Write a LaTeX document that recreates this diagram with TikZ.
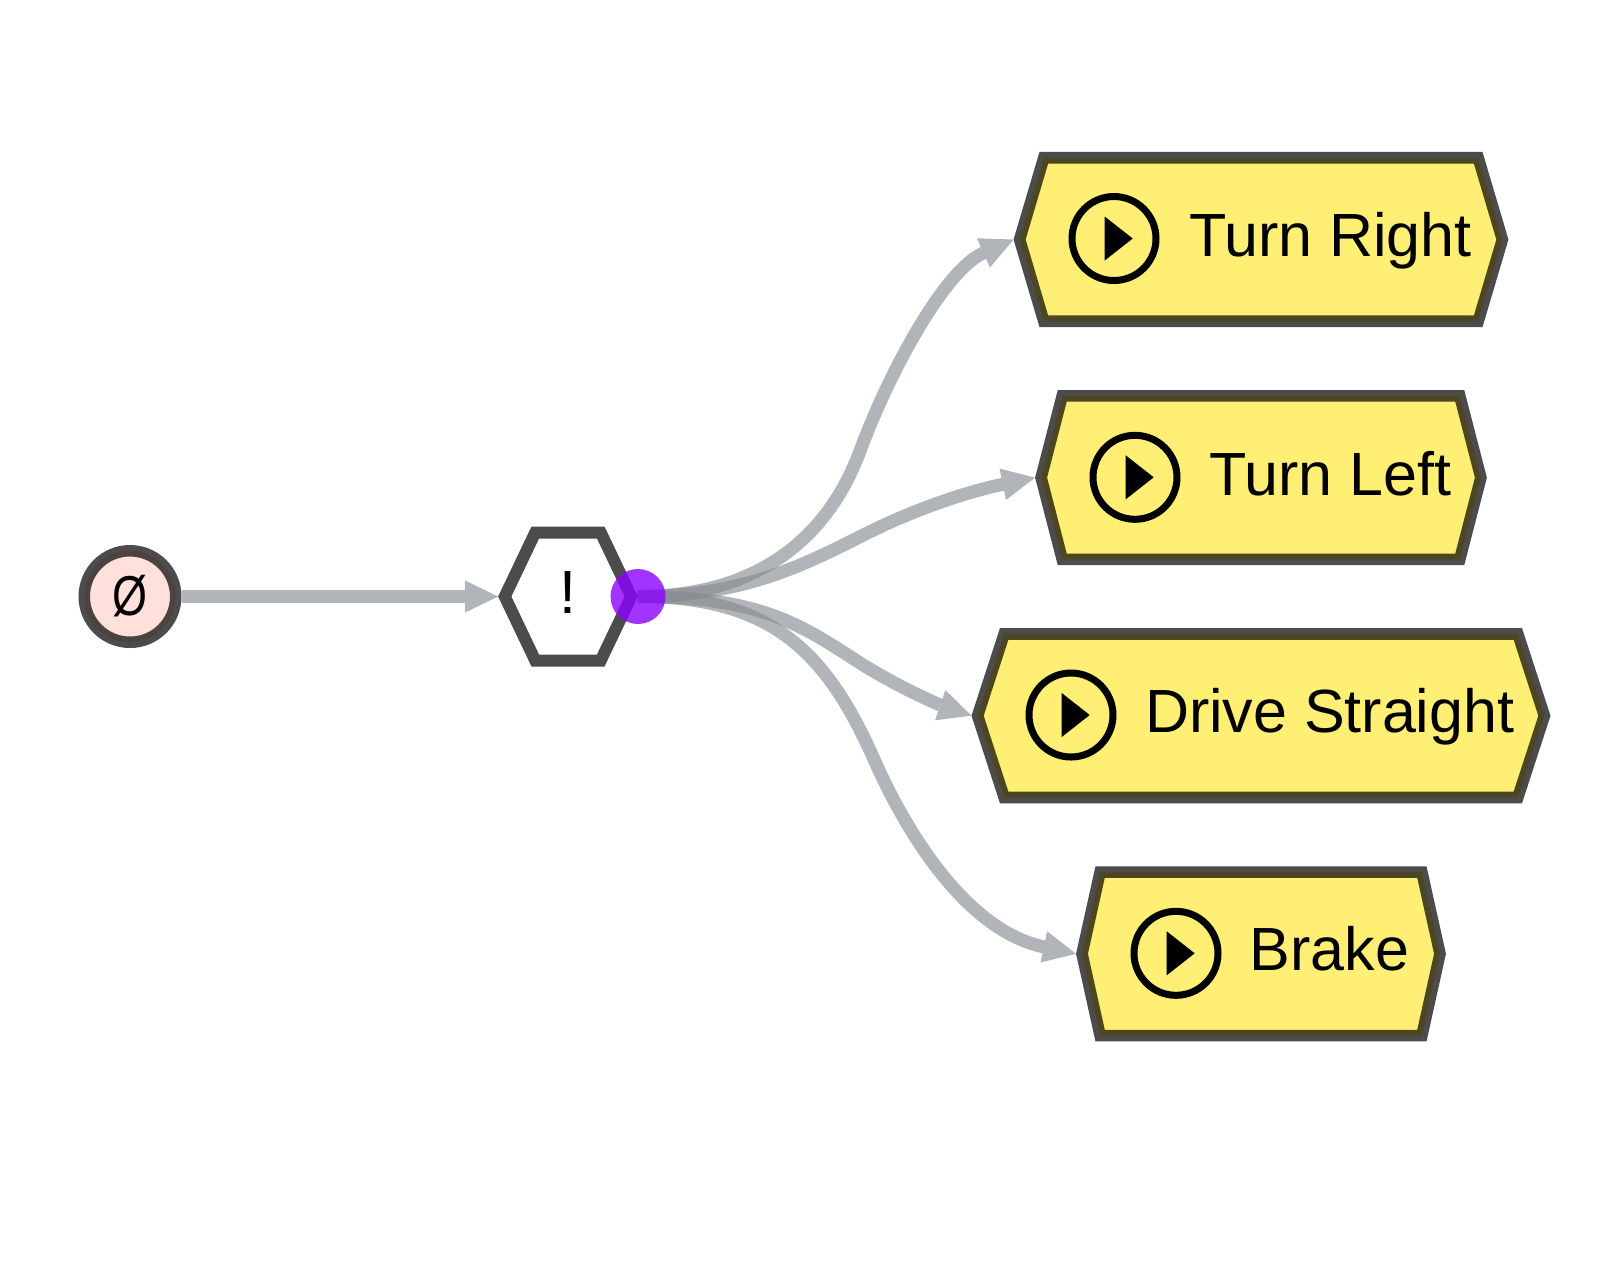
\documentclass[tikz,border=0pt]{standalone}
\usepackage{fontspec}
\usepackage{graphicx}
\setmainfont{Liberation Sans}
\usetikzlibrary{arrows.meta,shapes.geometric,shapes.symbols}
\definecolor{actionYellow}{HTML}{FFEF75}
\definecolor{rootPink}{HTML}{FFE0DA}
\definecolor{edgeGray}{HTML}{878C92}
\definecolor{portPurple}{HTML}{8C00FF}
\begin{document}
\begin{tikzpicture}
        [rootNode/.style={circle,draw=black,draw opacity=.7,fill=rootPink,line width=.115cm,minimum size=.915cm,inner sep=0,font=\fontsize{16}{18}\selectfont},
        gateNode/.style={signal,signal to=west and east,signal pointer angle=129,draw=black,draw opacity=.7,fill=white,line width=.12cm,minimum width=1.265cm,minimum height=1.28cm,inner sep=0},
        actionNode/.style={signal,signal to=west and east,draw=black,draw opacity=.7,fill=actionYellow,line width=.116cm,minimum height=1.635cm,inner sep=0},
        playRing/.style={circle,draw=black,line width=.07cm,minimum size=.84cm,inner sep=0},
        playTip/.style={isosceles triangle,isosceles triangle stretches,fill=black,minimum width=.44cm,minimum height=.28cm,inner sep=0,anchor=lower side},
        labelText/.style={inner sep=0,anchor=base west,font=\fontsize{17.35}{20}\selectfont},
        flowEdge/.style={line width=.13cm,draw=edgeGray,opacity=.65,-{Triangle[length=.33cm,width=.32cm,line width=0pt]}},
        portDot/.style={circle,fill=portPurple,fill opacity=.8,minimum size=.55cm,inner sep=0}]
        \useasboundingbox (0,0) rectangle (16.24,-12.6);
        \node[rootNode] (root) at (1.30,-5.965) {\scalebox{.8}[1]{Ø}};
        \node[gateNode] (gate) at (5.68,-5.965) {};
        \node[labelText,anchor=base] (gateText) at (5.68,-6.133) {!};

        \node[actionNode,minimum width=4.828cm,signal pointer angle=147] (turnRight) at (12.61,-2.395) {};
        \node[playRing] (turnRightRing) at (11.14,-2.385) {};
        \node[playTip] (turnRightTip) at (11.04,-2.385) {};
        \node[labelText] (turnRightText) at (11.887,-2.565) {Turn Right};

        \node[actionNode,minimum width=4.398cm,signal pointer angle=151] (turnLeft) at (12.61,-4.776) {};
        \node[playRing] (turnLeftRing) at (11.35,-4.773) {};
        \node[playTip] (turnLeftTip) at (11.25,-4.773) {};
        \node[labelText] (turnLeftText) at (12.087,-4.95) {Turn Left};

        \node[actionNode,minimum width=5.668cm,signal pointer angle=144] (driveStraight) at (12.61,-7.157) {};
        \node[playRing] (driveStraightRing) at (10.71,-7.15) {};
        \node[playTip] (driveStraightTip) at (10.61,-7.15) {};
        \node[labelText] (driveStraightText) at (11.443,-7.327) {Drive Straight};

        \node[actionNode,minimum width=3.58cm,signal pointer angle=155] (brake) at (12.61,-9.538) {};
        \node[playRing] (brakeRing) at (11.76,-9.533) {};
        \node[playTip] (brakeTip) at (11.66,-9.533) {};
        \node[labelText] (brakeText) at (12.49,-9.707) {Brake};

        \draw[flowEdge] (root) -- (gate.west);
        \draw[flowEdge] (gate.east) .. controls (7.50,-5.965) and (8.25,-5.45) .. (8.60,-4.51) .. controls (8.90,-3.70) and (9.45,-2.70) .. (turnRight.west);
        \draw[flowEdge] (gate.east) .. controls (7.40,-5.965) and (8.00,-5.67) .. (8.60,-5.367) .. controls (9.20,-5.06) and (9.75,-4.90) .. (turnLeft.west);
        \draw[flowEdge] (gate.east) .. controls (7.60,-5.965) and (8.00,-6.24) .. (8.60,-6.63) .. controls (9.00,-6.88) and (9.40,-7.05) .. (driveStraight.west);
        \draw[flowEdge] (gate.east) .. controls (7.70,-5.965) and (8.25,-6.50) .. (8.73,-7.57) .. controls (9.05,-8.30) and (9.65,-9.30) .. (brake.west);

        \node[portDot] (port) at (6.38,-5.965) {};
\end{tikzpicture}
\end{document}
